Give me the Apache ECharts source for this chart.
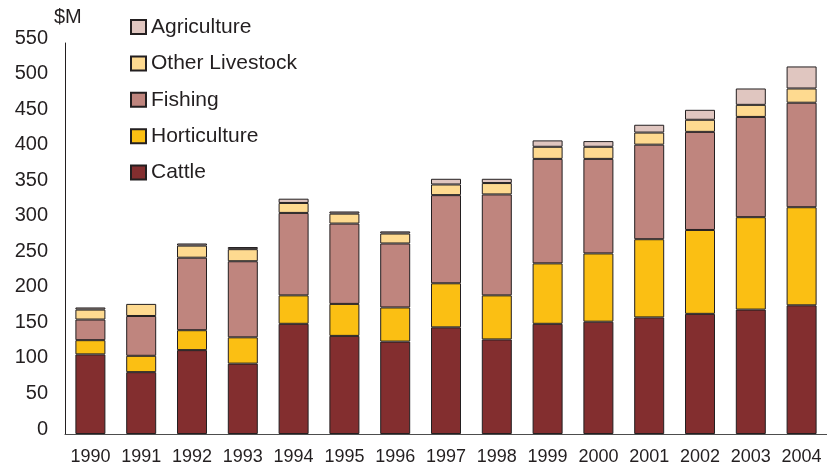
<!DOCTYPE html>
<html>
<head>
<meta charset="utf-8">
<script src="https://cdn.jsdelivr.net/npm/echarts@6/dist/echarts.min.js"></script>
<style>
  html, body { margin: 0; padding: 0; background: #fff; }
  #chart { width: 827px; height: 466px; }
</style>
</head>
<body>
<div id="chart"></div>
<script>
var years = ['1990', '1991', '1992', '1993', '1994', '1995', '1996', '1997',
             '1998', '1999', '2000', '2001', '2002', '2003', '2004'];

// $M
var cattle         = [112, 87, 118, 99, 155, 138, 130, 150, 133, 155, 158, 164, 169, 175, 181];
var horticulture   = [20, 23, 28, 37, 40, 45, 48, 62, 62, 85, 96, 110, 118, 130, 138];
var fishing        = [29, 56, 102, 107, 116, 113, 90, 124, 142, 147, 133, 133, 138, 141, 147];
var otherLivestock = [14, 17, 17, 17, 14, 14, 14, 15, 16, 17, 17, 17, 17, 17, 20];
var agriculture    = [3, 0, 3, 3, 6, 3, 3, 8, 6, 9, 8, 11, 14, 23, 31];

var legendNames = ['Agriculture', 'Other Livestock', 'Fishing', 'Horticulture', 'Cattle'];

function bar(name, data, color) {
  return {
    name: name,
    type: 'bar',
    stack: 'total',
    barWidth: 30,
    // a zero segment would only double the top border
    data: data.map(function (v) { return v === 0 ? '-' : v; }),
    itemStyle: {
      color: color,
      borderColor: '#231f20',
      borderWidth: 1
    }
  };
}

var option = {
  backgroundColor: '#ffffff',
  animation: false,
  textStyle: { fontFamily: 'Liberation Sans, Arial, sans-serif' },
  title: {
    text: '$M',
    left: 49,
    top: 2,
    textStyle: { fontSize: 20, fontWeight: 'normal', color: '#231f20' }
  },
  legend: {
    data: legendNames,
    orient: 'vertical',
    left: 125,
    top: 11,
    icon: 'rect',
    itemWidth: 15,
    itemHeight: 14,
    itemGap: 14.4,
    textStyle: { fontSize: 21, color: '#231f20', lineHeight: 22 }
  },
  grid: {
    left: 65,
    top: 43,
    width: 772,
    height: 391
  },
  xAxis: {
    type: 'category',
    data: years,
    axisLine: { lineStyle: { color: '#4d4d4d', width: 1 } },
    axisTick: { show: false },
    axisLabel: {
      interval: 0,
      margin: 14,
      fontSize: 18,
      color: '#231f20'
    }
  },
  yAxis: {
    type: 'value',
    min: 0,
    max: 550,
    interval: 50,
    axisLine: { show: true, lineStyle: { color: '#231f20', width: 1 } },
    axisTick: { show: false },
    splitLine: { show: false },
    axisLabel: {
      margin: 17,
      fontSize: 20,
      color: '#231f20',
      verticalAlign: 'bottom',
      lineHeight: 10
    }
  },
  series: [
    bar('Cattle', cattle, '#832e2f'),
    bar('Horticulture', horticulture, '#fbbf13'),
    bar('Fishing', fishing, '#bf857e'),
    bar('Other Livestock', otherLivestock, '#feda90'),
    bar('Agriculture', agriculture, '#e0c6c0')
  ]
};

var chart = echarts.init(document.getElementById('chart'));
chart.setOption(option);
</script>
</body>
</html>
